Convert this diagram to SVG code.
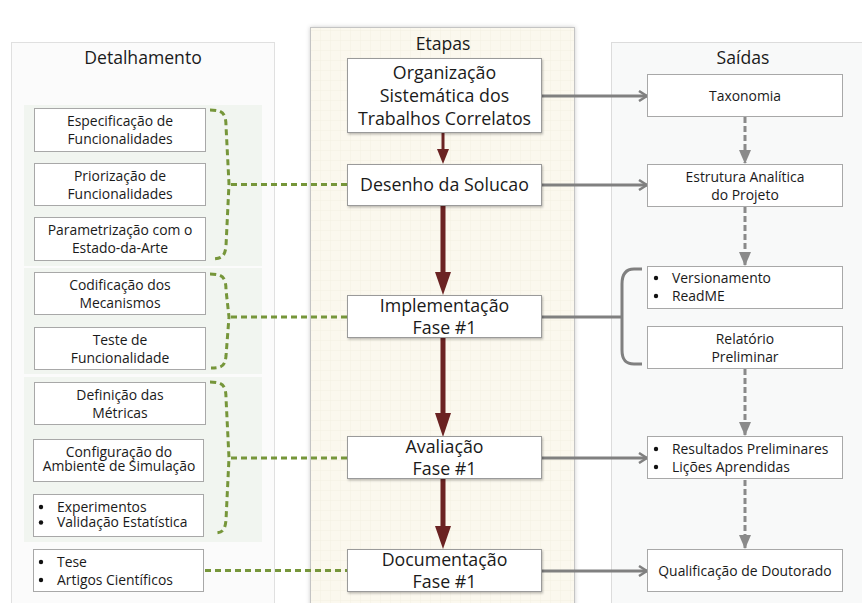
<svg xmlns="http://www.w3.org/2000/svg" width="862" height="603" viewBox="0 0 862 603">
  <defs>
    <style>
      text { font-family: "Open Sans", "Noto Sans", "Liberation Sans", sans-serif; fill: #1a1a1a; }
      .title { font-size: 17.6px; text-anchor: middle; }
      .step { font-size: 17.8px; text-anchor: middle; }
      .small { font-size: 13.9px; text-anchor: middle; }
      .list { font-size: 13.9px; }
      .box { fill: #ffffff; stroke: #a8a8a8; stroke-width: 1; }
      .stepbox { fill: #ffffff; stroke: #9a9a9a; stroke-width: 1; filter: url(#shadow); }
      .green { fill: none; stroke: #76963a; stroke-width: 3; stroke-dasharray: 6 4; }
      .grey { fill: none; stroke: #808080; stroke-width: 3; }
      .greydash { fill: none; stroke: #8a8a8a; stroke-width: 3; stroke-dasharray: 6 3; }
      .flow { stroke: #6b2323; stroke-width: 5; }
      .subbg { fill: #eef3ec; opacity: 0.75; }
    </style>
    <pattern id="grid" width="10" height="10" patternUnits="userSpaceOnUse">
      <path d="M10,0 L0,0 0,10" fill="none" stroke="#efe9da" stroke-width="0.6"/>
    </pattern>
    <filter id="shadow" x="-10%" y="-10%" width="120%" height="130%">
      <feDropShadow dx="1" dy="1.5" stdDeviation="1.2" flood-color="#000" flood-opacity="0.25"/>
    </filter>
    <filter id="panelshadow" x="-5%" y="-5%" width="110%" height="110%">
      <feDropShadow dx="0" dy="0" stdDeviation="2" flood-color="#000" flood-opacity="0.2"/>
    </filter>
    <marker id="chev" viewBox="0 0 10 12" refX="9" refY="6" markerWidth="10" markerHeight="12" markerUnits="userSpaceOnUse" orient="auto">
      <polyline points="1,1 9,6 1,11" fill="none" stroke="#808080" stroke-width="2.5"/>
    </marker>
    <marker id="tri" viewBox="0 0 12 14" refX="6" refY="13" markerWidth="12" markerHeight="14" markerUnits="userSpaceOnUse" orient="0">
      <polygon points="0,0 12,0 6,14" fill="#8a8a8a"/>
    </marker>
  </defs>

  <!-- column panels -->
  <g id="panel-detalhamento">
    <rect x="11.5" y="42.5" width="263" height="580" fill="#fbfbfb" stroke="#e0e0e0"/>
    <text class="title" x="143" y="64">Detalhamento</text>
    <rect class="subbg" x="24" y="105" width="238" height="161"/>
    <rect class="subbg" x="24" y="268" width="238" height="106"/>
    <rect class="subbg" x="24" y="377" width="238" height="165"/>
  </g>
  <g id="panel-etapas">
    <rect x="310.5" y="27.5" width="264" height="600" fill="#fbf8ee" stroke="#c4c4c4" filter="url(#panelshadow)"/>
    <rect x="311" y="28" width="263" height="600" fill="url(#grid)"/>
    <text class="title" x="443" y="50">Etapas</text>
  </g>
  <g id="panel-saidas">
    <rect x="611.5" y="42.5" width="270" height="580" fill="#f8f9f9" stroke="#dcdcdc"/>
    <text class="title" x="743" y="64">Saídas</text>
  </g>

  <!-- connectors -->
  <g id="connectors">
    <!-- main flow -->
    <line class="flow" x1="443" y1="133" x2="443" y2="150" style="stroke-width:3"/>
    <polygon points="437,149 449,149 443,164" fill="#6b2323"/>
    <line class="flow" x1="443" y1="206" x2="443" y2="274"/>
    <polygon points="435,272 451,272 443,295" fill="#6b2323"/>
    <line class="flow" x1="443" y1="337" x2="443" y2="415"/>
    <polygon points="435,413 451,413 443,437" fill="#6b2323"/>
    <line class="flow" x1="443" y1="479" x2="443" y2="528"/>
    <polygon points="435,526 451,526 443,549" fill="#6b2323"/>

    <!-- outputs -->
    <line class="grey" x1="542" y1="96" x2="647" y2="96" marker-end="url(#chev)"/>
    <line class="grey" x1="542" y1="185" x2="647" y2="185" marker-end="url(#chev)"/>
    <line class="grey" x1="542" y1="317" x2="622" y2="317"/>
    <path class="grey" d="M642,269 L634,269 C626,269 622,274 622,284 L622,350 C622,360 626,364 634,364 L642,364"/>
    <line class="grey" x1="542" y1="458" x2="647" y2="458" marker-end="url(#chev)"/>
    <line class="grey" x1="542" y1="571" x2="647" y2="571" marker-end="url(#chev)"/>

    <!-- output sequence -->
    <line class="greydash" x1="745" y1="117" x2="745" y2="163" marker-end="url(#tri)"/>
    <line class="greydash" x1="745" y1="207" x2="745" y2="265" marker-end="url(#tri)"/>
    <line class="greydash" x1="745" y1="369" x2="745" y2="435" marker-end="url(#tri)"/>
    <line class="greydash" x1="745" y1="480" x2="745" y2="548" marker-end="url(#tri)"/>

    <!-- detail braces -->
    <path class="green" d="M210,110 C222,110 226,113 226,126 L229,184 L226,246 C225,256 222,259 211,259"/>
    <line class="green" x1="231" y1="184.5" x2="347" y2="184.5"/>
    <path class="green" d="M210,274 C222,274 226,277 226,290 L229,317 L226,356 C225,366 222,368 211,368"/>
    <line class="green" x1="231" y1="317" x2="347" y2="317"/>
    <path class="green" d="M210,382 C222,382 226,385 226,398 L229,458 L226,520 C225,531 222,533 214,533"/>
    <line class="green" x1="231" y1="458" x2="347" y2="458"/>
    <line class="green" x1="205" y1="570.5" x2="347" y2="570.5"/>
  </g>

  <!-- detail nodes -->
  <g id="det-especificacao">
    <rect class="box" x="34.5" y="108.5" width="171" height="43"/>
    <text class="small" x="120" y="125.5">Especificação de</text>
    <text class="small" x="120" y="143.5">Funcionalidades</text>
  </g>
  <g id="det-priorizacao">
    <rect class="box" x="34.5" y="163.5" width="171" height="42"/>
    <text class="small" x="120" y="180.5">Priorização de</text>
    <text class="small" x="120" y="198.5">Funcionalidades</text>
  </g>
  <g id="det-parametrizacao">
    <rect class="box" x="34.5" y="217.5" width="171" height="43"/>
    <text class="small" x="120" y="234.5">Parametrização com o</text>
    <text class="small" x="120" y="252.5">Estado-da-Arte</text>
  </g>
  <g id="det-codificacao">
    <rect class="box" x="34.5" y="272.5" width="171" height="42"/>
    <text class="small" x="120" y="289.5">Codificação dos</text>
    <text class="small" x="120" y="307.5">Mecanismos</text>
  </g>
  <g id="det-teste">
    <rect class="box" x="34.5" y="327.5" width="171" height="42"/>
    <text class="small" x="120" y="344.5">Teste de</text>
    <text class="small" x="120" y="362.5">Funcionalidade</text>
  </g>
  <g id="det-definicao">
    <rect class="box" x="34.5" y="382.5" width="171" height="42"/>
    <text class="small" x="120" y="399.5">Definição das</text>
    <text class="small" x="120" y="417.5">Métricas</text>
  </g>
  <g id="det-configuracao">
    <rect class="box" x="33.5" y="439.5" width="170" height="42"/>
    <text class="small" x="119" y="456.5">Configuração do</text>
    <text class="small" x="119" y="470.5">Ambiente de Simulação</text>
  </g>
  <g id="det-experimentos">
    <rect class="box" x="33.5" y="494.5" width="170" height="42"/>
    <circle cx="41" cy="507" r="2.2" fill="#111"/>
    <circle cx="41" cy="522.5" r="2.2" fill="#111"/>
    <text class="list" x="57" y="511.5">Experimentos</text>
    <text class="list" x="57" y="527">Validação Estatística</text>
  </g>
  <g id="det-tese">
    <rect class="box" x="33.5" y="549.5" width="170" height="42"/>
    <circle cx="41" cy="562" r="2.2" fill="#111"/>
    <circle cx="41" cy="580" r="2.2" fill="#111"/>
    <text class="list" x="57" y="566.5">Tese</text>
    <text class="list" x="57" y="584.5">Artigos Científicos</text>
  </g>

  <!-- step nodes -->
  <g id="step-organizacao">
    <rect class="stepbox" x="347.5" y="58.5" width="194" height="74"/>
    <text class="step" x="444.5" y="79">Organização</text>
    <text class="step" x="444.5" y="102">Sistemática dos</text>
    <text class="step" x="444.5" y="125">Trabalhos Correlatos</text>
  </g>
  <g id="step-desenho">
    <rect class="stepbox" x="347.5" y="164.5" width="194" height="41"/>
    <text class="step" x="444.5" y="191">Desenho da Solucao</text>
  </g>
  <g id="step-implementacao">
    <rect class="stepbox" x="347.5" y="295.5" width="194" height="42"/>
    <text class="step" x="444.5" y="312">Implementação</text>
    <text class="step" x="444.5" y="334">Fase #1</text>
  </g>
  <g id="step-avaliacao">
    <rect class="stepbox" x="347.5" y="436.5" width="194" height="42"/>
    <text class="step" x="444.5" y="453">Avaliação</text>
    <text class="step" x="444.5" y="475">Fase #1</text>
  </g>
  <g id="step-documentacao">
    <rect class="stepbox" x="347.5" y="549.5" width="194" height="42"/>
    <text class="step" x="444.5" y="566">Documentação</text>
    <text class="step" x="444.5" y="588">Fase #1</text>
  </g>

  <!-- output nodes -->
  <g id="out-taxonomia">
    <rect class="box" x="647.5" y="74.5" width="195" height="42"/>
    <text class="small" x="745" y="100.5">Taxonomia</text>
  </g>
  <g id="out-estrutura">
    <rect class="box" x="647.5" y="164.5" width="195" height="42"/>
    <text class="small" x="745" y="181.5">Estrutura Analítica</text>
    <text class="small" x="745" y="199.5">do Projeto</text>
  </g>
  <g id="out-versionamento">
    <rect class="box" x="647.5" y="266.5" width="195" height="42"/>
    <circle cx="656" cy="278" r="2.2" fill="#111"/>
    <circle cx="656" cy="296" r="2.2" fill="#111"/>
    <text class="list" x="672" y="282.5">Versionamento</text>
    <text class="list" x="672" y="300.5">ReadME</text>
  </g>
  <g id="out-relatorio">
    <rect class="box" x="647.5" y="326.5" width="195" height="42"/>
    <text class="small" x="745" y="343.5">Relatório</text>
    <text class="small" x="745" y="361.5">Preliminar</text>
  </g>
  <g id="out-resultados">
    <rect class="box" x="647.5" y="436.5" width="195" height="42"/>
    <circle cx="656" cy="449" r="2.2" fill="#111"/>
    <circle cx="656" cy="467" r="2.2" fill="#111"/>
    <text class="list" x="672" y="453.5">Resultados Preliminares</text>
    <text class="list" x="672" y="471.5">Lições Aprendidas</text>
  </g>
  <g id="out-qualificacao">
    <rect class="box" x="647.5" y="549.5" width="195" height="42"/>
    <text class="small" x="745" y="575.5">Qualificação de Doutorado</text>
  </g>
</svg>
